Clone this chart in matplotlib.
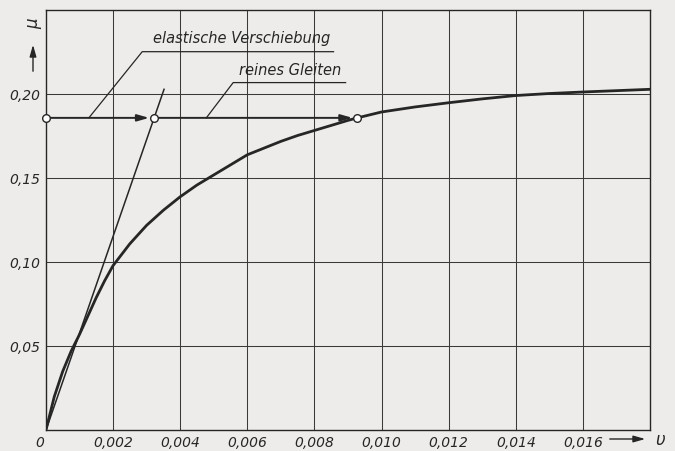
import matplotlib
matplotlib.use("Agg")
import matplotlib.pyplot as plt
from matplotlib.patches import FancyArrowPatch

# Daten
v_curve = [0, 0.00025, 0.0005, 0.00075, 0.001, 0.00125, 0.0015, 0.00175, 0.002,
           0.0025, 0.003, 0.0035, 0.004, 0.0045, 0.005, 0.0055, 0.006, 0.0065,
           0.007, 0.0075, 0.008, 0.0085, 0.009, 0.00928]
mu_curve = [0, 0.020, 0.035, 0.047, 0.057, 0.068, 0.079, 0.089, 0.098,
            0.111, 0.122, 0.131, 0.139, 0.146, 0.152, 0.158, 0.164, 0.168,
            0.172, 0.1755, 0.1785, 0.1815, 0.1845, 0.186]
v_tail = [0.00928, 0.010, 0.011, 0.012, 0.013, 0.014, 0.015, 0.016, 0.017, 0.018]
mu_tail = [0.186, 0.1895, 0.1925, 0.195, 0.1973, 0.1993, 0.2005, 0.2014, 0.2022, 0.203]

v_line = [0, 0.00352]
mu_line = [0, 0.203]

mu_slide = 0.186
v_points = [0, 0.00322, 0.00928]

xticks = [0.002, 0.004, 0.006, 0.008, 0.010, 0.012, 0.014, 0.016]
xlabels = ['0,002', '0,004', '0,006', '0,008', '0,010', '0,012', '0,014', '0,016']
yticks = [0.05, 0.10, 0.15, 0.20]
ylabels = ['0,05', '0,10', '0,15', '0,20']

paper = '#edecea'
ink = '#262626'
head = '-|>,head_length=0.7,head_width=0.2'

plt.rcParams['font.family'] = ['DejaVu Sans']
plt.rcParams['font.style'] = 'italic'

fig = plt.figure(figsize=(6.75, 4.51), dpi=100, facecolor=paper)
ax = fig.add_axes([0.068, 0.046, 0.895, 0.931], facecolor=paper)
ax.set_xlim(0, 0.018)
ax.set_ylim(0, 0.25)

ax.set_xticks(xticks)
ax.set_xticklabels(xlabels)
ax.set_yticks(yticks)
ax.set_yticklabels(ylabels)
ax.tick_params(length=0, labelsize=10, colors=ink, pad=4)
ax.grid(True, color='#3a3a3a', lw=0.75)
for s in ax.spines.values():
    s.set_color(ink)
    s.set_linewidth(1.0)

ax.text(-0.00005, -0.0035, '0', ha='right', va='top', fontsize=10, color=ink)

# Kurve
ax.plot(v_curve, mu_curve, color=ink, lw=2.0, zorder=3, solid_joinstyle='round')
ax.plot(v_tail, mu_tail, color=ink, lw=2.0, zorder=3, solid_joinstyle='round')
# elastische Gerade
ax.plot(v_line, mu_line, color=ink, lw=1.1, zorder=3)

# Gleitlinie mit Pfeilen
for i in range(len(v_points) - 1):
    ax.annotate('', xy=(v_points[i + 1], mu_slide), xytext=(v_points[i], mu_slide),
                arrowprops=dict(arrowstyle=head, color=ink, lw=1.4,
                                shrinkA=3, shrinkB=3.5, mutation_scale=10), zorder=4)
ax.plot(v_points, [mu_slide] * len(v_points), 'o', ms=5.5, mfc='white', mec=ink,
        mew=1.0, zorder=5, clip_on=False)

# Beschriftungen mit Hinweislinien
ax.plot([0.00128, 0.00287, 0.00857], [mu_slide, 0.2254, 0.2254], color=ink, lw=0.9)
ax.text(0.00582, 0.2285, 'elastische Verschiebung', ha='center', va='bottom',
        fontsize=10.5, color=ink)
ax.plot([0.00478, 0.00558, 0.00893], [mu_slide, 0.207, 0.207], color=ink, lw=0.9)
ax.text(0.00728, 0.2100, 'reines Gleiten', ha='center', va='bottom',
        fontsize=10.5, color=ink)

# Achsenbezeichnungen
fig.text(33 / 675, 1 - 24 / 451, 'μ', rotation=90, ha='center', va='center',
         fontsize=12, color=ink)
fig.add_artist(FancyArrowPatch(
    (33 / 675, 1 - 74 / 451), (33 / 675, 1 - 42 / 451), transform=fig.transFigure,
    arrowstyle=head, mutation_scale=10, color=ink, lw=1.0))
fig.add_artist(FancyArrowPatch(
    (607 / 675, 1 - 439 / 451), (648 / 675, 1 - 439 / 451), transform=fig.transFigure,
    arrowstyle=head, mutation_scale=10, color=ink, lw=1.0))
fig.text(660 / 675, 1 - 440 / 451, 'υ', ha='center', va='center', fontsize=12,
         color=ink)

fig.savefig('out.png', dpi=100, facecolor=paper)
